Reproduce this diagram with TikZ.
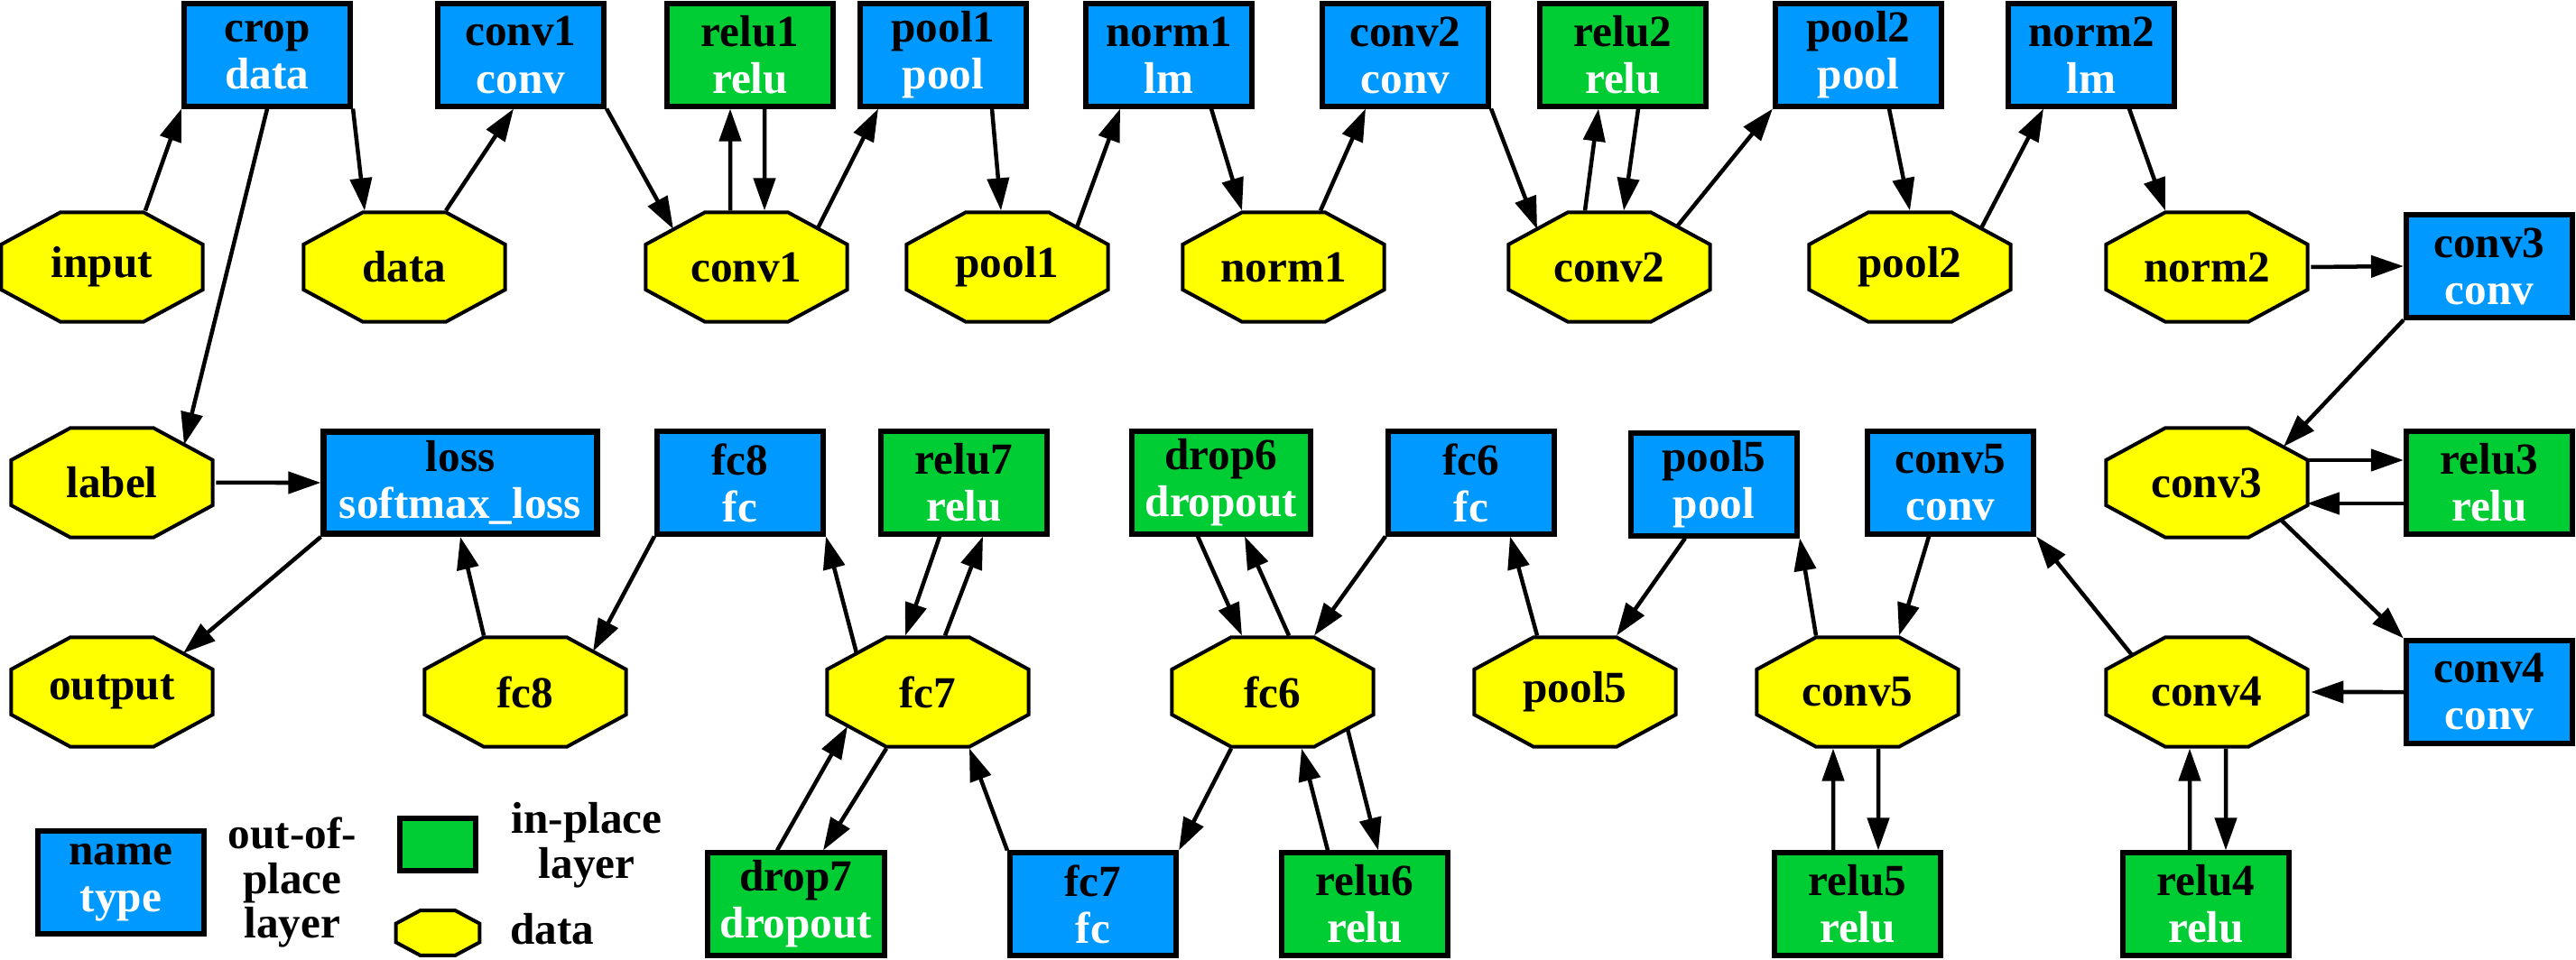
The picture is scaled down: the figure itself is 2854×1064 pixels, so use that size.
\documentclass[tikz,border=0pt]{standalone}
\usepackage{fontspec}
\setmainfont{Liberation Serif}
\usepackage{graphicx}
\usepackage{xcolor}
\usetikzlibrary{arrows.meta, calc, shapes.geometric}
\definecolor{laybl}{RGB}{0,153,255}
\definecolor{laygr}{RGB}{0,204,51}
\definecolor{blobyl}{RGB}{255,255,0}
\newcommand{\ltype}[1]{\textcolor{white}{#1}}
\newcommand{\btext}[1]{\scalebox{0.5426}[1]{#1}}
\tikzstyle{layer}=[rectangle, draw=black, line width=0.06cm, fill=laybl,
  font=\fontsize{14pt}{14.8pt}\selectfont\bfseries, align=center,
  minimum width=1.84cm, minimum height=1.13cm, inner xsep=0.12cm, inner ysep=0pt]
\tikzstyle{inplace}=[layer, fill=laygr]
\tikzstyle{octa}=[regular polygon, regular polygon sides=8, draw=black,
  line width=0.04cm, fill=blobyl, inner sep=0pt, transform shape,
  font=\fontsize{14pt}{14.8pt}\selectfont\bfseries]
\tikzstyle{blob}=[octa, minimum size=1.31cm, xscale=1.843]
\tikzstyle{legtext}=[align=center, font=\fontsize{14pt}{14.2pt}\selectfont\bfseries]
\tikzstyle{arr}=[-{Triangle[length=0.36cm, width=0.24cm]}, line width=0.045cm]

\begin{document}
\begin{tikzpicture}[x=0.01cm, y=-0.01cm]
  \useasboundingbox (0,0) rectangle (2854,1064);
  % layers, top row
  \node[layer] (crop) at (296,61) {crop\\\ltype{data}};
  \node[layer] (conv1) at (577,61) {conv1\\\ltype{conv}};
  \node[inplace] (relu1) at (831,61) {relu1\\\ltype{relu}};
  \node[layer] (pool1) at (1045,61) {pool1\\\ltype{pool}};
  \node[layer] (norm1) at (1295,61) {norm1\\\ltype{lm}};
  \node[layer] (conv2) at (1557,61) {conv2\\\ltype{conv}};
  \node[inplace] (relu2) at (1798,61) {relu2\\\ltype{relu}};
  \node[layer] (pool2) at (2059,61) {pool2\\\ltype{pool}};
  \node[layer] (norm2) at (2317,61) {norm2\\\ltype{lm}};
  \node[layer] (conv3) at (2758,295) {conv3\\\ltype{conv}};
  % layers, middle row
  \node[layer, minimum width=3.02cm, line width=0.07cm] (loss) at (510,535) {loss\\\ltype{softmax\_loss}};
  \node[layer] (fc8) at (820,535) {fc8\\\ltype{fc}};
  \node[inplace] (relu7) at (1068,535) {relu7\\\ltype{relu}};
  \node[inplace, minimum width=1.98cm] (drop6) at (1353,535) {drop6\\\ltype{dropout}};
  \node[layer] (fc6) at (1630,535) {fc6\\\ltype{fc}};
  \node[layer] (pool5) at (1899,537) {pool5\\\ltype{pool}};
  \node[layer] (conv5) at (2161,535) {conv5\\\ltype{conv}};
  \node[inplace] (relu3) at (2758,535) {relu3\\\ltype{relu}};
  \node[layer] (conv4) at (2758,767) {conv4\\\ltype{conv}};
  % layers, bottom row
  \node[inplace, minimum width=1.95cm] (drop7) at (882,1002) {drop7\\\ltype{dropout}};
  \node[layer] (fc7) at (1211,1002) {fc7\\\ltype{fc}};
  \node[inplace] (relu6) at (1512,1002) {relu6\\\ltype{relu}};
  \node[inplace] (relu5) at (2058,1002) {relu5\\\ltype{relu}};
  \node[inplace] (relu4) at (2444,1002) {relu4\\\ltype{relu}};
  % blobs
  \node[blob] (inputb) at (113,296) {\btext{input}};
  \node[blob] (datab) at (448,296) {\btext{data}};
  \node[blob] (conv1b) at (827,296) {\btext{conv1}};
  \node[blob] (pool1b) at (1116,296) {\btext{pool1}};
  \node[blob] (norm1b) at (1422,296) {\btext{norm1}};
  \node[blob] (conv2b) at (1783,296) {\btext{conv2}};
  \node[blob] (pool2b) at (2116,296) {\btext{pool2}};
  \node[blob] (norm2b) at (2445,296) {\btext{norm2}};
  \node[blob] (labelb) at (124,535) {\btext{label}};
  \node[blob] (conv3b) at (2445,535) {\btext{conv3}};
  \node[blob] (outputb) at (124,767) {\btext{output}};
  \node[blob] (fc8b) at (582,767) {\btext{fc8}};
  \node[blob] (fc7b) at (1028,767) {\btext{fc7}};
  \node[blob] (fc6b) at (1410,767) {\btext{fc6}};
  \node[blob] (pool5b) at (1745,767) {\btext{pool5}};
  \node[blob] (conv5b) at (2058,767) {\btext{conv5}};
  \node[blob] (conv4b) at (2445,767) {\btext{conv4}};
  % legend
  \node[layer] (legbox) at (134,978) {name\\\ltype{type}};
  \node[legtext] (legout) at (324,978) {out-of-\\place\\layer};
  \node[inplace, minimum width=0.84cm, minimum height=0.58cm] (leggr) at (485,936) {};
  \node[legtext] (legin) at (650,937) {in-place\\layer};
  \node[octa, minimum size=0.54cm, xscale=1.86] (legbl) at (485,1034) {};
  \node[legtext] (legdata) at (612,1030) {data};
  % edges, top
  \draw[arr] ($(inputb.north)+(48,0)$) -- (crop.south west);
  \draw[arr] (crop.south) -- ($(labelb)+(80,-42)$);
  \draw[arr] (crop.south east) -- ($(datab.north)+(-44,0)$);
  \draw[arr] ($(datab.north)+(46,0)$) -- ($(conv1.south)+(-8,0)$);
  \draw[arr] (conv1.south east) -- ($(conv1b)+(-81,-42)$);
  \draw[arr] ($(conv1b.north)+(-18,0)$) -- ($(relu1.south)+(-22,0)$);
  \draw[arr] ($(relu1.south)+(16,0)$) -- ($(conv1b.north)+(20,0)$);
  \draw[arr] ($(conv1b)+(79,-43)$) -- ($(pool1.south)+(-72,0)$);
  \draw[arr] ($(pool1.south)+(54,0)$) -- ($(pool1b.north)+(-7,0)$);
  \draw[arr] ($(pool1b)+(77,-44)$) -- ($(norm1.south)+(-54,0)$);
  \draw[arr] ($(norm1.south)+(47,0)$) -- ($(norm1b.north)+(-46,0)$);
  \draw[arr] ($(norm1b.north)+(41,0)$) -- ($(conv2.south)+(-44,0)$);
  \draw[arr] (conv2.south east) -- ($(conv2b)+(-80,-42)$);
  \draw[arr] ($(conv2b.north)+(-27,0)$) -- ($(relu2.south)+(-27,0)$);
  \draw[arr] ($(relu2.south)+(17,0)$) -- ($(conv2b.north)+(16,0)$);
  \draw[arr] ($(conv2b)+(75,-45)$) -- (pool2.south west);
  \draw[arr] ($(pool2.south)+(34,0)$) -- (pool2b.north);
  \draw[arr] ($(pool2b)+(79,-43)$) -- ($(norm2.south)+(-53,0)$);
  \draw[arr] ($(norm2.south)+(42,0)$) -- ($(norm2b.north)+(-46,0)$);
  \draw[arr] (norm2b.east) -- (conv3.west);
  % edges, right
  \draw[arr] (conv3.south west) -- ($(conv3b)+(85,-40)$);
  \draw[arr] ($(conv3b)+(111,-25)$) -- ($(relu3.west)+(0,-25)$);
  \draw[arr] ($(relu3.west)+(0,23)$) -- ($(conv3b)+(111,23)$);
  \draw[arr] ($(conv3b)+(82,41)$) -- (conv4.north west);
  \draw[arr] (conv4.west) -- (conv4b.east);
  \draw[arr] ($(conv4b.south)+(21,0)$) -- ($(relu4.north)+(22,0)$);
  \draw[arr] ($(relu4.north)+(-18,0)$) -- ($(conv4b.south)+(-19,0)$);
  \draw[arr] ($(conv4b)+(-83,-41)$) -- (conv5.south east);
  \draw[arr] ($(conv5.south)+(-24,0)$) -- ($(conv5b.north)+(46,0)$);
  \draw[arr] ($(conv5b.south)+(23,0)$) -- ($(relu5.north)+(23,0)$);
  \draw[arr] ($(relu5.north)+(-27,0)$) -- ($(conv5b.south)+(-27,0)$);
  \draw[arr] ($(conv5b.north)+(-46,0)$) -- (pool5.south east);
  % edges, bottom
  \draw[arr] ($(pool5.south)+(-32,0)$) -- ($(pool5b.north)+(46,0)$);
  \draw[arr] ($(pool5b.north)+(-42,0)$) -- ($(fc6.south)+(43,0)$);
  \draw[arr] (fc6.south west) -- ($(fc6b.north)+(46,0)$);
  \draw[arr] ($(fc6b.north)+(18,0)$) -- ($(drop6.south)+(26,0)$);
  \draw[arr] ($(drop6.south)+(-26,0)$) -- ($(fc6b.north)+(-34,0)$);
  \draw[arr] ($(fc6b)+(83,41)$) -- ($(relu6.north)+(15,0)$);
  \draw[arr] ($(relu6.north)+(-41,0)$) -- ($(fc6b.south)+(32,0)$);
  \draw[arr] ($(fc6b.south)+(-46,0)$) -- (fc7.north east);
  \draw[arr] (fc7.north west) -- ($(fc7b.south)+(46,0)$);
  \draw[arr] ($(fc7b.south)+(-46,0)$) -- ($(drop7.north)+(30,0)$);
  \draw[arr] ($(drop7.north)+(-21,0)$) -- ($(fc7b)+(-89,38)$);
  \draw[arr] ($(fc7b.north)+(19,0)$) -- ($(relu7.south)+(21,0)$);
  \draw[arr] ($(relu7.south)+(-27,0)$) -- ($(fc7b.north)+(-25,0)$);
  \draw[arr] ($(fc7b)+(-79,-43)$) -- (fc8.south east);
  \draw[arr] (fc8.south west) -- ($(fc8b)+(75,-45)$);
  \draw[arr] ($(fc8b.north)+(-46,0)$) -- (loss.south);
  \draw[arr] (labelb.east) -- (loss.west);
  \draw[arr] (loss.south west) -- ($(outputb)+(79,-43)$);
\end{tikzpicture}
\end{document}
